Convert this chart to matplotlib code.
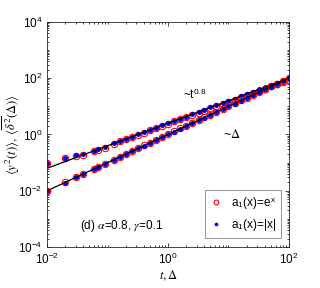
import numpy as np
import matplotlib
matplotlib.use("Agg")
import matplotlib.pyplot as plt
from matplotlib.ticker import LogLocator, NullFormatter

plt.rcParams['font.family'] = ['Liberation Sans', 'DejaVu Sans']
plt.rcParams['mathtext.fontset'] = 'stix'

# time / lag values
t = [0.01, 0.02, 0.03, 0.04, 0.06, 0.07, 0.09, 0.126, 0.16, 0.2, 0.25, 0.32, 0.4,
     0.5, 0.63, 0.8, 1.0, 1.26, 1.6, 2.0, 2.5, 3.2, 4.0, 5.0, 6.3, 8.0, 10, 12.6,
     16, 20, 25, 32, 40, 50, 63, 80, 100]

# <y^2(t)>
msd_exp = [0.10, 0.15, 0.17, 0.19, 0.26, 0.29, 0.34, 0.47, 0.57, 0.67, 0.80, 0.97,
           1.16, 1.40, 1.68, 2.02, 2.42, 2.9, 3.45, 4.15, 4.95, 5.95, 7.1, 8.5, 10.1,
           12.1, 14.5, 17.3, 20.8, 24.9, 29.9, 35.8, 42.8, 51.3, 61.6, 73.8, 88]
msd_abs = [0.10, 0.15, 0.18, 0.20, 0.27, 0.30, 0.35, 0.48, 0.58, 0.69, 0.82, 1.00,
           1.20, 1.44, 1.73, 2.09, 2.50, 3.0, 3.6, 4.35, 5.2, 6.3, 7.55, 9.1, 10.9,
           13.1, 15.8, 18.9, 22.8, 27.4, 33, 39.7, 47.6, 57.3, 69, 83, 100]

# <delta^2(Delta)>
ta_exp = [0.0102, 0.020, 0.031, 0.040, 0.061, 0.070, 0.092, 0.128, 0.165, 0.205,
          0.255, 0.33, 0.41, 0.51, 0.65, 0.82, 1.03, 1.3, 1.65, 2.05, 2.6, 3.3, 4.1,
          5.1, 6.4, 8.2, 10.3, 13, 16.5, 20.5, 25.5, 32.5, 41, 51, 64, 80, 99]
ta_abs = [0.0100, 0.0195, 0.030, 0.041, 0.060, 0.071, 0.090, 0.125, 0.16, 0.20,
          0.25, 0.32, 0.40, 0.50, 0.63, 0.80, 1.0, 1.26, 1.6, 2.0, 2.5, 3.2, 4.0,
          5.0, 6.3, 8.0, 10, 12.6, 16, 20, 25, 32, 40, 50, 63, 80, 100]

# guide lines
t_fit = [0.01, 100]
fit_08 = [0.063, 99.5]   # ~ t^0.8
fit_1 = [0.01, 100]      # ~ Delta

fig = plt.figure(figsize=(3.2, 2.88), dpi=100)
ax = fig.add_axes([0.147, 0.142, 0.756, 0.782])

ax.plot(t, msd_exp, 'o', mfc='none', mec='red', ms=4.6, mew=0.8, label=r'a$_\mathregular{1}$(x)=e$^\mathregular{x}$')
ax.plot(t, msd_abs, 'o', color='blue', ms=3.6, mew=0, label=r'a$_\mathregular{1}$(x)=|x|')
ax.plot(t, ta_exp, 'o', mfc='none', mec='red', ms=4.6, mew=0.8)
ax.plot(t, ta_abs, 'o', color='blue', ms=3.6, mew=0)
ax.plot(t_fit, fit_08, 'k-', lw=0.9)
ax.plot(t_fit, fit_1, 'k-', lw=0.9)

ax.set_xscale('log')
ax.set_yscale('log')
ax.set_xlim(1e-2, 1e2)
ax.set_ylim(1e-4, 1e4)
ax.xaxis.set_major_locator(LogLocator(base=100, numticks=10))
ax.yaxis.set_major_locator(LogLocator(base=100, numticks=10))
for a in (ax.xaxis, ax.yaxis):
    a.set_minor_locator(LogLocator(base=10, subs=np.arange(1, 10), numticks=50))
    a.set_minor_formatter(NullFormatter())
ax.tick_params(which='both', direction='in', top=True, right=True, labelsize=8.5, width=0.5)
ax.tick_params(which='major', length=3)
ax.tick_params(which='minor', length=1.5)
for s in ax.spines.values():
    s.set_linewidth(0.6)
    s.set_color('#262626')

ax.set_xlabel(r'$t, \Delta$', fontsize=9, labelpad=1)
ax.set_ylabel(r'$\langle y^2(t)\rangle$, $\langle\overline{\delta^2}(\Delta)\rangle$', fontsize=9)
ax.yaxis.set_label_coords(-0.105, 0.5)

ax.text(1.8, 26, r'~t$^\mathregular{0.8}$', fontsize=8.5, ha='left', va='center')
ax.text(8.0, 1.0, r'~$\Delta$', fontsize=9, ha='left', va='center')
ax.text(0.035, 5.5e-4, r'(d) $\alpha$=0.8, $\gamma$=0.1', fontsize=8.5, ha='left', va='center')

leg = ax.legend(loc='lower right', bbox_to_anchor=(0.99, 0.015), fontsize=8.5,
                fancybox=False, edgecolor='#808080', framealpha=1, markerscale=0.75,
                handlelength=1.2, handletextpad=0.6, borderpad=0.4, labelspacing=0.5)
leg.get_frame().set_linewidth(0.6)

fig.savefig('out.png', dpi=100)
